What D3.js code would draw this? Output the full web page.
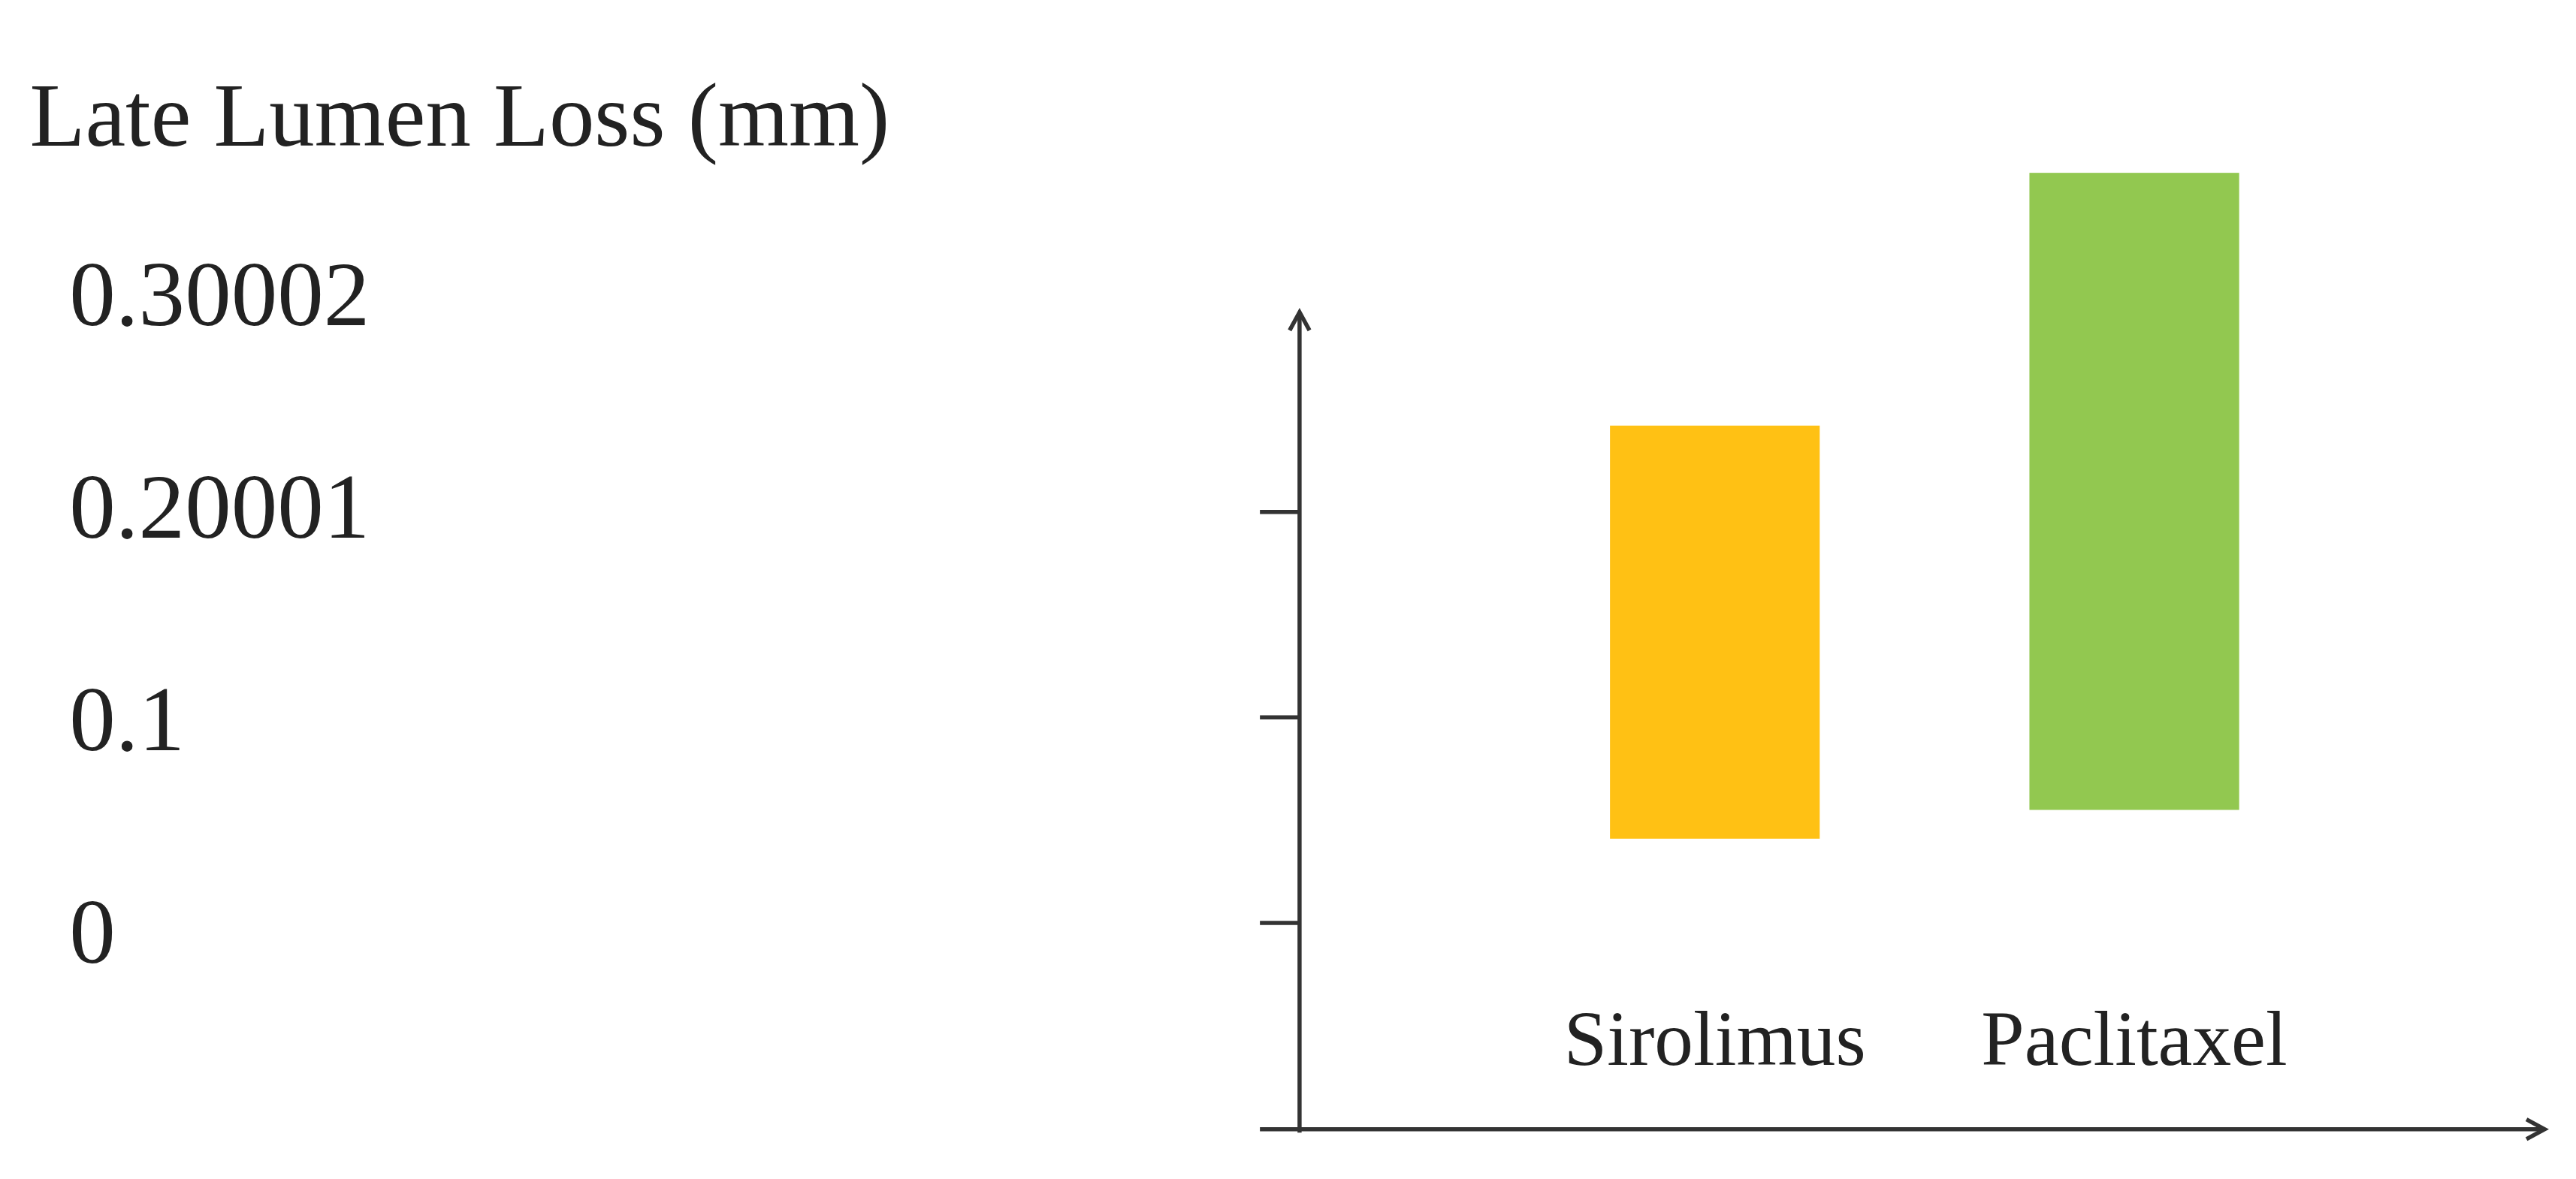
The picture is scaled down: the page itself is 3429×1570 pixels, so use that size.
<!DOCTYPE html>
<html><head><meta charset="utf-8">
<script src="https://cdn.jsdelivr.net/npm/d3@7"></script>
<style>body{margin:0;background:#fff}</style>
</head><body>
<svg></svg>
<script>
// floating bars: [low, high] late lumen loss
var categories = ["Sirolimus", "Paclitaxel"];
var lows = [0.041, 0.055];
var highs = [0.242, 0.365];
var colors = ["#FFC114", "#92C850"];
var sideLabels = ["0.30002", "0.20001", "0.1", "0"];
var tickValues = [0, 0.1, 0.2];

var svg = d3.select("svg")
  .attr("width", 3429).attr("height", 1570)
  .attr("viewBox", "0 0 1560 714");

var y = d3.scaleLinear().domain([0, 0.1]).range([559, 434.5]);
var x = d3.scaleBand().domain(categories).range([975, 1356]).paddingInner(0.5);

svg.append("text").attr("x", 18).attr("y", 88)
  .attr("font-family", "Liberation Serif").attr("font-size", 55).attr("fill", "#222")
  .text("Late Lumen Loss (mm)");

var ly = d3.scalePoint().domain(sideLabels).range([197, 583]);
svg.selectAll(".side").data(sideLabels).enter().append("text")
  .attr("x", 42).attr("y", function(d) { return ly(d); })
  .attr("font-family", "Liberation Serif").attr("font-size", 56).attr("fill", "#222")
  .text(function(d) { return d; });

svg.selectAll(".bar").data(categories).enter().append("rect")
  .attr("x", function(d) { return x(d); })
  .attr("width", x.bandwidth())
  .attr("y", function(d, i) { return y(highs[i]); })
  .attr("height", function(d, i) { return y(lows[i]) - y(highs[i]); })
  .attr("fill", function(d, i) { return colors[i]; });

svg.selectAll(".cat").data(categories).enter().append("text")
  .attr("x", function(d) { return x(d) + x.bandwidth() / 2; }).attr("y", 645)
  .attr("text-anchor", "middle")
  .attr("font-family", "Liberation Serif").attr("font-size", 47).attr("fill", "#222")
  .text(function(d) { return d; });

var ax = "#333";
svg.append("line").attr("x1", 787).attr("x2", 787).attr("y1", 190).attr("y2", 686)
  .attr("stroke", ax).attr("stroke-width", 2.5);
svg.append("line").attr("x1", 763).attr("x2", 1540).attr("y1", 684).attr("y2", 684)
  .attr("stroke", ax).attr("stroke-width", 2.5);
svg.append("path").attr("d", "M781,200 L787,189 L793,200").attr("fill", "none")
  .attr("stroke", ax).attr("stroke-width", 2.5);
svg.append("path").attr("d", "M1530,678 L1541,684 L1530,690").attr("fill", "none")
  .attr("stroke", ax).attr("stroke-width", 2.5);

svg.selectAll(".tick").data(tickValues).enter().append("line")
  .attr("x1", 763).attr("x2", 787)
  .attr("y1", function(d) { return y(d); }).attr("y2", function(d) { return y(d); })
  .attr("stroke", ax).attr("stroke-width", 2.5);
</script>
</body></html>
